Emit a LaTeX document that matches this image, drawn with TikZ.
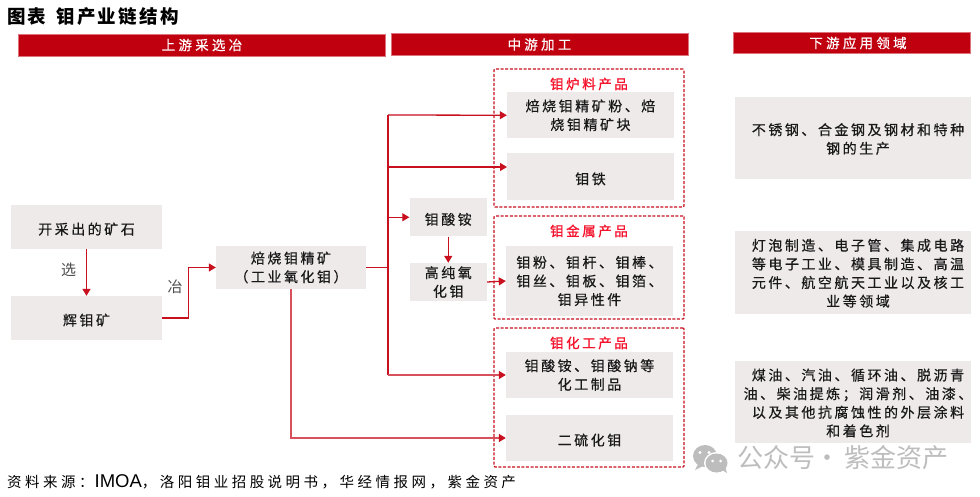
\documentclass[tikz,border=0pt]{standalone}
\usepackage{fontspec}
\setmainfont{Noto Sans CJK SC}
\newfontfamily\latinf{Liberation Sans}
\newfontfamily\body[LetterSpace=18,FakeBold=0.5]{Noto Sans CJK SC}
\newfontfamily\bodyb[LetterSpace=19,FakeBold=1.2]{Noto Sans CJK SC}
\newfontfamily\wide[LetterSpace=24,FakeBold=0.6]{Noto Sans CJK SC}
\usetikzlibrary{arrows.meta,calc}
\definecolor{barred}{HTML}{C0000F}
\definecolor{linered}{HTML}{C8101E}
\definecolor{softred}{HTML}{D8505C}
\definecolor{boxgrey}{HTML}{EFEAEA}
\definecolor{titlered}{HTML}{F5142D}
\definecolor{wmgrey}{HTML}{BDBDBD}
\tikzset{
  x=1pt,y=-1pt,
  bar/.style={fill=barred,draw=barred!55!white,line width=.6pt,text=white,inner sep=0pt,
    font=\fontsize{13.5}{15}\wide},
  ftext/.style={inner sep=0pt,align=center,text=black!90,
    font=\fontsize{14}{18.6}\selectfont\body,execute at begin node={\rule{0pt}{16pt}}},
  fbox/.style={fill=boxgrey,ftext},
  rbox/.style={fill=boxgrey,inner sep=0pt},
  rtext/.style={ftext,xshift=5pt,yshift=-1pt},
  group/.style={draw=linered,dash pattern=on 3pt off 1.6pt,line width=1.1pt,rounded corners=1pt,inner sep=0pt},
  grouptitle/.style={text=titlered,inner sep=0pt,font=\fontsize{13.5}{15}\bodyb},
  flow/.style={draw=linered,line width=1.3pt,-{Triangle[length=7pt,width=8pt]}},
  flowb/.style={draw=softred,line width=1.4pt,-{Triangle[length=7pt,width=8pt,color=linered]}},
  plain/.style={draw=linered,line width=1.3pt},
  step label/.style={text=black!70,inner sep=0pt,font=\fontsize{15}{17}\selectfont},
}
\begin{document}
\begin{tikzpicture}
\useasboundingbox (0,0) rectangle (980,497);
\node[anchor=west,inner sep=0pt,font=\fontsize{18.5}{20}\selectfont\bfseries] (title) at (7,17)
  {\addfontfeature{LetterSpace=12}图表\hspace{10pt}钼产业链结构};

\node[bar,minimum width=367pt,minimum height=22pt] (up) at (202,45) {上游采选冶};
\node[bar,minimum width=297pt,minimum height=21.5pt] (mid) at (539.5,44.5) {中游加工};
\node[bar,minimum width=237pt,minimum height=21.5pt] (down) at (852,43) {\hspace{12pt}下游应用领域};

\node[group,minimum width=190pt,minimum height=138pt] (g1) at (589,138) {};
\node[group,minimum width=190pt,minimum height=103pt] (g2) at (589,267.5) {};
\node[group,minimum width=190pt,minimum height=139pt] (g3) at (589,397.5) {};
\node[grouptitle] (g1t) at (589,84) {钼炉料产品};
\node[grouptitle] (g2t) at (589,231) {钼金属产品};
\node[grouptitle] (g3t) at (589,343) {钼化工产品};

\node[fbox,minimum width=167pt,minimum height=46.5pt] (a1) at (590.5,115.25) {焙烧钼精矿粉、焙\\烧钼精矿块};
\node[fbox,minimum width=167pt,minimum height=46.5pt] (a2) at (590.5,176.75) {钼铁};
\node[fbox,minimum width=167pt,minimum height=70pt] (b1) at (589.5,281) {钼粉、钼杆、钼棒、\\钼丝、钼板、钼箔、\\钼异性件};
\node[fbox,minimum width=167pt,minimum height=46pt] (c1) at (589.5,375) {钼酸铵、钼酸钠等\\化工制品};
\node[fbox,minimum width=167pt,minimum height=46pt] (c2) at (589.5,438) {二硫化钼};

\node[rbox,minimum width=236pt,minimum height=82pt,label={[rtext]center:{不锈钢、合金钢及钢材和特种\\钢的生产}}] (r1) at (853,138) {};
\node[rbox,minimum width=236pt,minimum height=82.5pt,label={[rtext]center:{灯泡制造、电子管、集成电路\\等电子工业、模具制造、高温\\元件、航空航天工业以及核工\\业等领域}}] (r2) at (853,272.25) {};
\node[rbox,minimum width=236pt,minimum height=82pt,label={[rtext]center:{煤油、汽油、循环油、脱沥青\\油、柴油提炼；润滑剂、油漆、\\以及其他抗腐蚀性的外层涂料\\和着色剂}}] (r3) at (853,402) {};

\node[fbox,minimum width=151pt,minimum height=44pt] (ore) at (86.5,227) {开采出的矿石};
\node[fbox,minimum width=151pt,minimum height=44pt] (moly) at (86.5,318) {辉钼矿};
\node[fbox,minimum width=150pt,minimum height=43pt] (roast) at (291,267.5) {焙烧钼精矿\\（工业氧化钼）};
\node[fbox,minimum width=77.5pt,minimum height=38.5pt] (amm) at (448.25,217.25) {钼酸铵};
\node[fbox,minimum width=77.5pt,minimum height=38pt] (oxide) at (448.25,282) {高纯氧\\化钼};

\coordinate (tj) at (388,267.5);
\coordinate (ttop) at (388,115);
\coordinate (tbot) at (388,375);
\coordinate (t2) at (388,167);
\coordinate (a2in) at (507,167);
\coordinate (moly1) at (188.5,318);
\coordinate (moly2) at (188.5,267.5);

\draw[flow] (ore.south) -- (moly.north);
\draw[flow] (moly.east) -- (moly1) -- (moly2) -- (roast.west);
\draw[plain] (roast.east) -- (tj);
\draw[plain] (ttop) -- (tbot);
\draw[flow] (ttop) -- (a1.west);
\draw[flow] (t2) -- (a2in);
\draw[flow] (amm.west -| tj) -- (amm.west);
\draw[flow] (amm.south) -- (oxide.north);
\draw[flow] (oxide.east) -- (b1.west);
\draw[flowb] (tbot) -- (c1.west);
\draw[flowb] (roast.south) |- (c2.west);

\node[step label] (sel) at (68.5,270) {选};
\node[step label] (smelt) at (175,287) {冶};

\node[anchor=west,inner sep=0pt,font=\fontsize{14.5}{17}\selectfont] (src) at (7,482)
  {\addfontfeature{LetterSpace=24}资料来源：{\latinf\fontsize{18.5}{17}\selectfont\hspace{1pt}IMOA}，洛阳钼业招股说明书，华经情报网，紫金资产};

% watermark
\fill[wmgrey] (705,456) ellipse [x radius=12pt,y radius=11pt];
\fill[wmgrey] (698,464) -- (695,470) -- (703,466) -- cycle;
\fill[white] (716.5,463) ellipse [x radius=12.5pt,y radius=11pt];
\fill[wmgrey] (716.5,463) ellipse [x radius=11pt,y radius=9.5pt];
\fill[wmgrey] (722,470) -- (727,473) -- (725,466) -- cycle;
\fill[white] (700,452.5) circle (1.7pt) (709,452.5) circle (1.7pt) (712.5,461) circle (1.5pt) (720.5,461) circle (1.5pt);
\node[anchor=west,text=wmgrey,inner sep=0pt,font=\fontsize{26}{28}\selectfont] (wm) at (737,458) {公众号\hspace{-1pt}·\hspace{4pt}紫金资产};
\end{tikzpicture}
\end{document}
